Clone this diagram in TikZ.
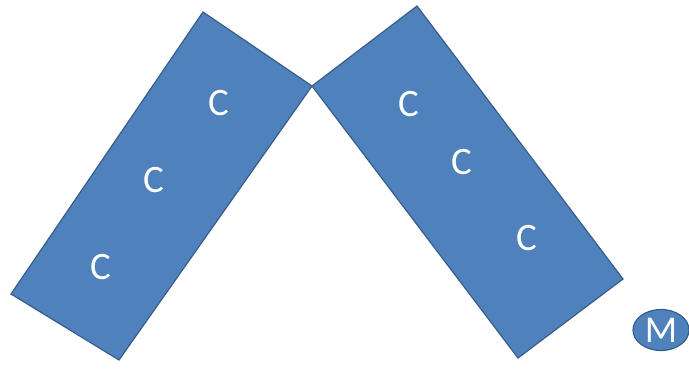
\documentclass[tikz,border=0pt]{standalone}
\usepackage{fontspec}
\setmainfont{Carlito}
\usetikzlibrary{shapes.geometric}
\definecolor{boxfill}{HTML}{4F81BD}
\definecolor{boxline}{HTML}{385D8A}
\tikzset{
  panel/.style={fill=boxfill, draw=boxline, line width=1.2bp, line join=miter},
  letter/.style={text=white, font=\fontsize{39}{44}\selectfont, inner sep=0pt},
  mnode/.style={ellipse, fill=boxfill, draw=boxline, line width=1.2bp, minimum width=56bp, minimum height=41bp, inner sep=0pt, text=white, font=\fontsize{38}{44}\selectfont}
}
\begin{document}
\begin{tikzpicture}[x=1bp, y=-1bp]
\useasboundingbox (0,0) rectangle (689,371);
\draw[panel] (203,12) -- (312,86) -- (119,360) -- (11,294) -- cycle;
\draw[panel] (417,6) -- (623,279) -- (518,358) -- (312,86) -- cycle;
\node[letter] (c1) at (219,103) {C};
\node[letter] (c2) at (154,180) {C};
\node[letter] (c3) at (101,267) {C};
\node[letter] (c4) at (409,104) {C};
\node[letter] (c5) at (462,162) {C};
\node[letter] (c6) at (527,238) {C};
\node[mnode] (m) at (661,330) {M};
\end{tikzpicture}
\end{document}
